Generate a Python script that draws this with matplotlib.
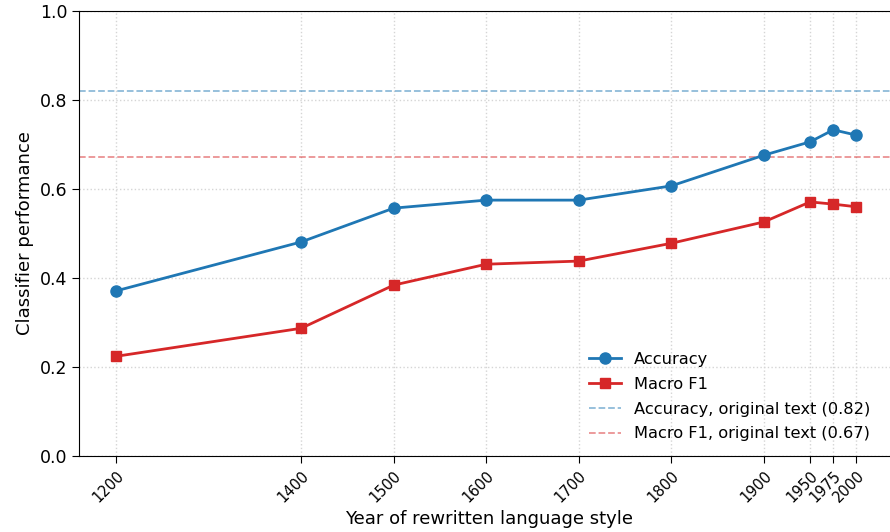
import matplotlib
matplotlib.use("Agg")
import matplotlib.pyplot as plt

years = [1200, 1400, 1500, 1600, 1700, 1800, 1900, 1950, 1975, 2000]
accuracy = [0.371, 0.481, 0.557, 0.575, 0.575, 0.607, 0.676, 0.706, 0.733, 0.721]
macro_f1 = [0.224, 0.287, 0.384, 0.431, 0.438, 0.478, 0.526, 0.571, 0.566, 0.560]
acc_orig = 0.82
f1_orig = 0.672
tick_labels = [str(y) for y in years]

fig = plt.figure(figsize=(8.9, 5.32), dpi=100)
ax = fig.add_axes([79/890, 1-456/532, 820/890, 445/532])

blue = "#1f77b4"
red = "#d62728"
ax.plot(years, accuracy, "-o", color=blue, lw=2, ms=8, label="Accuracy", zorder=3)
ax.plot(years, macro_f1, "-s", color=red, lw=2, ms=7.5, label="Macro F1", zorder=3)
ax.axhline(acc_orig, color=blue, ls="--", lw=1.3, alpha=0.5, label="Accuracy, original text (0.82)")
ax.axhline(f1_orig, color=red, ls="--", lw=1.3, alpha=0.5, label="Macro F1, original text (0.67)")

ax.set_xlim(1160, 2046)
ax.set_ylim(0, 1.0)
ax.set_xticks(years)
ax.set_xticklabels(tick_labels, rotation=45, ha="right", rotation_mode="anchor", fontsize=10.5)
ax.set_yticks([0.0, 0.2, 0.4, 0.6, 0.8, 1.0])
ax.set_yticklabels(["0.0", "0.2", "0.4", "0.6", "0.8", "1.0"], fontsize=12.5)
ax.tick_params(length=5)
ax.grid(True, ls=":", color="#d5d5d5", lw=1)
ax.set_axisbelow(True)
ax.spines["right"].set_visible(False)
ax.set_xlabel("Year of rewritten language style", fontsize=13)
ax.set_ylabel("Classifier performance", fontsize=13)
ax.legend(loc="lower right", bbox_to_anchor=(0.983, 0.0), frameon=False, fontsize=11.7,
          labelspacing=0.6)

fig.savefig("out.png", dpi=100)
